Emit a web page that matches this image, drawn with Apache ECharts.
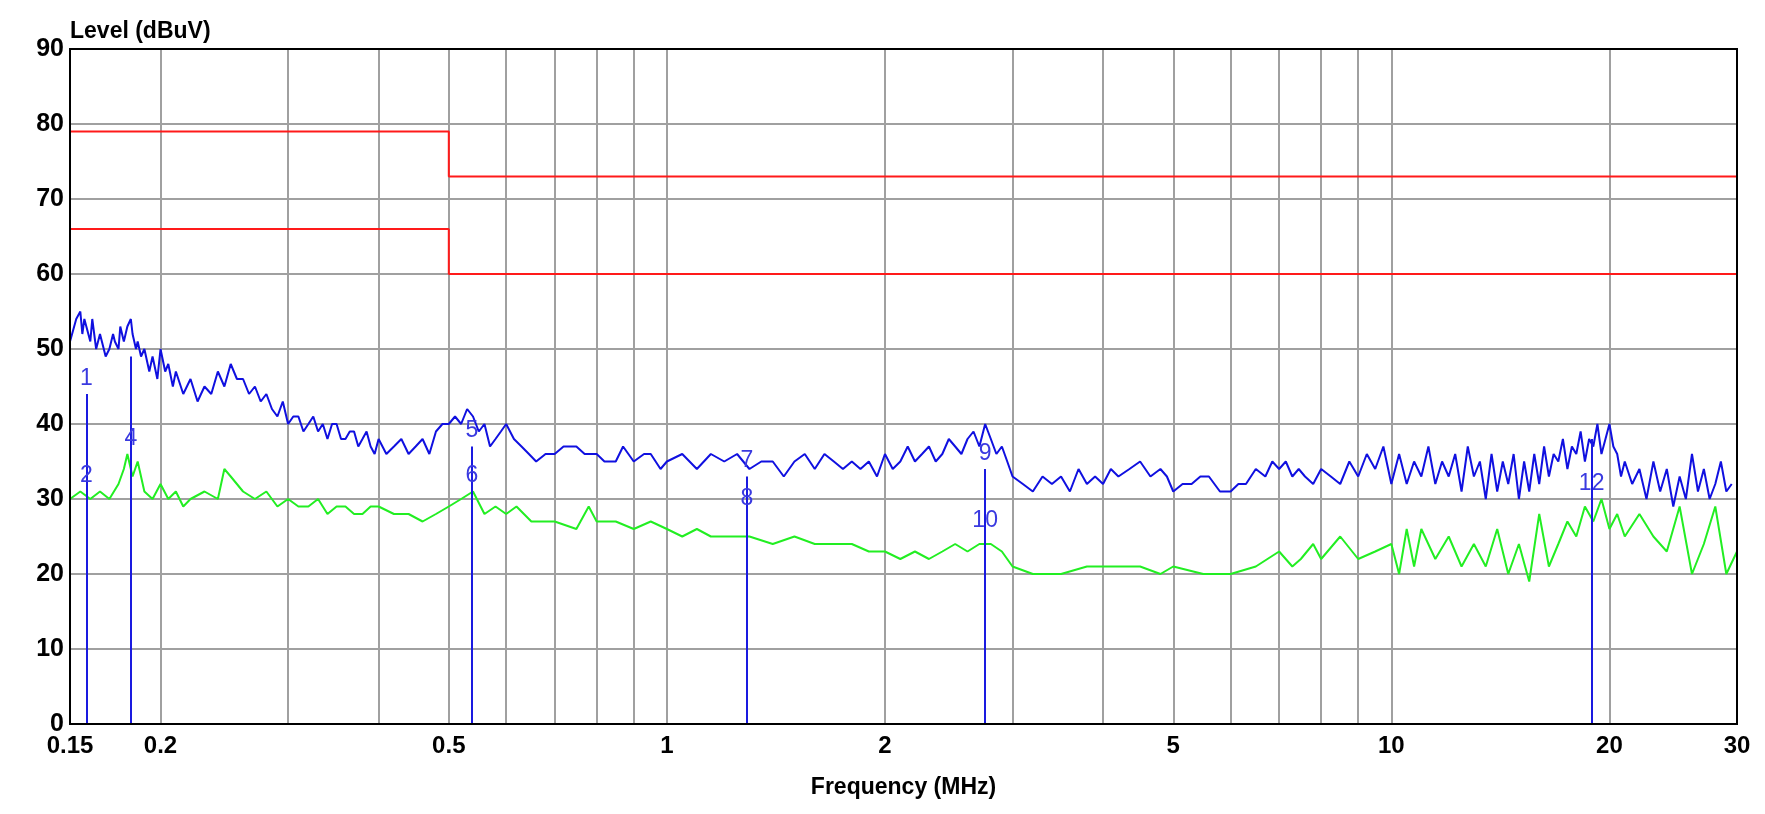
<!DOCTYPE html>
<html><head><meta charset="utf-8">
<script src="https://cdn.jsdelivr.net/npm/echarts@6/dist/echarts.min.js"></script>
<style>html,body{margin:0;background:#fff}#c{width:1765px;height:814px}</style></head>
<body><div id="c"></div>
<script>
const xTickLabels=[0.15,0.2,0.5,1,2,5,10,20,30];
const xGrid=[0.2,0.3,0.4,0.5,0.6,0.7,0.8,0.9,1,2,3,4,5,6,7,8,9,10,20];
const qpLimitF=[0.15,0.5,0.5,30], qpLimitV=[79,79,73,73];
const avLimitF=[0.15,0.5,0.5,30], avLimitV=[66,66,60,60];
const blueF=[0.15,0.151,0.152,0.153,0.155,0.156,0.157,0.158,0.16,0.161,0.163,0.165,0.166,0.168,0.17,0.172,0.173,0.175,0.176,0.178,0.18,0.182,0.183,0.185,0.186,0.188,0.19,0.193,0.195,0.198,0.2,0.203,0.205,0.208,0.21,0.215,0.22,0.225,0.23,0.235,0.24,0.245,0.25,0.255,0.26,0.265,0.27,0.275,0.28,0.285,0.29,0.295,0.3,0.305,0.31,0.315,0.32,0.325,0.33,0.335,0.34,0.345,0.35,0.355,0.36,0.365,0.37,0.375,0.38,0.385,0.39,0.395,0.4,0.41,0.42,0.43,0.44,0.45,0.46,0.47,0.48,0.49,0.5,0.51,0.52,0.53,0.54,0.55,0.56,0.57,0.58,0.59,0.6,0.615,0.63,0.645,0.66,0.68,0.7,0.72,0.75,0.77,0.8,0.82,0.85,0.87,0.9,0.93,0.95,0.98,1.0,1.05,1.1,1.15,1.2,1.25,1.3,1.35,1.4,1.45,1.5,1.55,1.6,1.65,1.7,1.75,1.8,1.85,1.9,1.95,2.0,2.05,2.1,2.15,2.2,2.25,2.3,2.35,2.4,2.45,2.5,2.55,2.6,2.65,2.7,2.75,2.8,2.85,2.9,2.95,3.0,3.1,3.2,3.3,3.4,3.5,3.6,3.7,3.8,3.9,4.0,4.1,4.2,4.35,4.5,4.65,4.8,4.9,5.0,5.15,5.3,5.45,5.6,5.8,6.0,6.15,6.3,6.5,6.7,6.85,7.0,7.15,7.3,7.45,7.6,7.8,8.0,8.25,8.5,8.75,9.0,9.25,9.5,9.75,10,10.25,10.5,10.75,11,11.25,11.5,11.75,12,12.25,12.5,12.75,13,13.25,13.5,13.75,14,14.25,14.5,14.75,15,15.25,15.5,15.75,16,16.25,16.5,16.75,17,17.25,17.5,17.75,18,18.25,18.5,18.75,19,19.25,19.5,19.75,20,20.25,20.5,20.75,21,21.5,22,22.5,23,23.5,24,24.5,25,25.5,26,26.5,27,27.5,28,28.5,29,29.5,30];
const blueV=[51,52,53,54,55,52,54,53,51,54,50,52,51,49,50,52,51,50,53,51,53,54,52,50,51,49,50,47,49,46,50,47,48,45,47,44,46,43,45,44,47,45,48,46,46,44,45,43,44,42,41,43,40,41,41,39,40,41,39,40,38,40,40,38,38,39,39,37,38,39,37,36,38,36,37,38,36,37,38,36,39,40,40,41,40,42,41,39,40,37,38,39,40,38,37,36,35,36,36,37,37,36,36,35,35,37,35,36,36,34,35,36,34,36,35,36,34,35,35,33,35,36,34,36,35,34,35,34,35,33,36,34,35,37,35,36,37,35,36,38,37,36,38,39,37,40,38,36,37,35,33,32,31,33,32,33,31,34,32,33,32,34,33,34,35,33,34,33,31,32,32,33,33,31,31,32,32,34,33,35,34,35,33,34,33,32,34,33,32,35,33,36,34,37,32,36,32,35,33,37,32,35,33,36,31,37,33,35,30,36,31,35,32,36,30,35,31,36,32,37,33,36,35,38,34,37,36,39,35,38,37,40,36,38,40,37,36,33,35,32,34,30,35,31,34,29,33,30,36,31,34,30,32,35,31,32];
const greenF=[0.15,0.155,0.16,0.165,0.17,0.175,0.178,0.18,0.183,0.186,0.19,0.195,0.2,0.205,0.21,0.215,0.22,0.23,0.24,0.245,0.25,0.26,0.27,0.28,0.29,0.3,0.31,0.32,0.33,0.34,0.35,0.36,0.37,0.38,0.39,0.4,0.42,0.44,0.46,0.48,0.5,0.52,0.54,0.56,0.58,0.6,0.62,0.65,0.7,0.75,0.78,0.8,0.85,0.9,0.95,1.0,1.05,1.1,1.15,1.2,1.3,1.4,1.5,1.6,1.7,1.8,1.9,2.0,2.1,2.2,2.3,2.4,2.5,2.6,2.7,2.8,2.9,3.0,3.2,3.5,3.8,4.0,4.3,4.5,4.8,5.0,5.5,6.0,6.5,7.0,7.3,7.5,7.8,8,8.5,9,9.5,10,10.25,10.5,10.75,11,11.5,12,12.5,13,13.5,14,14.5,15,15.5,16,16.5,17,17.5,18,18.5,19,19.5,20,20.5,21,22,23,24,25,26,27,28,29,30];
const greenV=[30,31,30,31,30,32,34,36,33,35,31,30,32,30,31,29,30,31,30,34,33,31,30,31,29,30,29,29,30,28,29,29,28,28,29,29,28,28,27,28,29,30,31,28,29,28,29,27,27,26,29,27,27,26,27,26,25,26,25,25,25,24,25,24,24,24,23,23,22,23,22,23,24,23,24,24,23,21,20,20,21,21,21,21,20,21,20,20,21,23,21,22,24,22,25,22,23,24,20,26,21,26,22,25,21,24,21,26,20,24,19,28,21,24,27,25,29,27,30,26,28,25,28,25,23,29,20,24,29,20,23,21,22,21];
const markerNames=['1','2','3','4','5','6','7','8','9','10','11','12'];
const markerLabelShown=[true,true,false,true,true,true,true,true,true,true,false,true];
const markerF=[0.158,0.158,0.182,0.182,0.538,0.538,1.29,1.29,2.75,2.75,18.9,18.9];
const markerV=[44,31,49,36,37,31,33,28,34,25,38,30];

const zip=(a,b)=>a.map((x,i)=>[x,b[i]]);
const chart=echarts.init(document.getElementById('c'));
const bold={fontFamily:'Liberation Sans, Arial',fontWeight:'bold',color:'#000'};
chart.setOption({
  animation:false,
  grid:{left:70,right:28,top:49,bottom:90,show:true,borderColor:'#000',borderWidth:2,z:10},
  xAxis:{type:'log',min:0.15,max:30,
    name:'Frequency (MHz)',nameLocation:'middle',nameGap:52,nameTextStyle:{...bold,fontSize:23},
    axisLine:{lineStyle:{color:'#000',width:2}},
    axisTick:{show:false},splitLine:{show:false},minorTick:{show:false},
    axisLabel:{customValues:xTickLabels,...bold,fontSize:24,margin:10,formatter:v=>String(+v.toPrecision(3))}},
  yAxis:{type:'value',min:0,max:90,interval:10,
    name:'Level (dBuV)',nameLocation:'end',nameGap:6,nameTextStyle:{...bold,fontSize:23,align:'left'},
    axisLine:{show:true,lineStyle:{color:'#000',width:2}},axisTick:{show:false},
    splitLine:{lineStyle:{color:'#a0a0a0',width:2}},
    axisLabel:{...bold,fontSize:25,margin:6}},
  series:[
    {type:'line',data:[],silent:true,z:1,markLine:{symbol:'none',silent:true,label:{show:false},z:1,
      lineStyle:{color:'#a0a0a0',width:2,type:'solid'},data:xGrid.map(v=>({xAxis:v}))}},
    {type:'line',z:5,data:zip(qpLimitF,qpLimitV),symbol:'none',lineStyle:{color:'#ff1a1a',width:2}},
    {type:'line',z:5,data:zip(avLimitF,avLimitV),symbol:'none',lineStyle:{color:'#ff1a1a',width:2}},
    {type:'line',z:6,data:zip(greenF,greenV),symbol:'none',lineStyle:{color:'#22ee22',width:2}},
    {type:'line',z:7,data:zip(blueF,blueV),symbol:'none',lineStyle:{color:'#1010e0',width:2},
      markLine:{symbol:'none',silent:true,z:8,lineStyle:{color:'#1a1ae0',width:2,type:'solid'},
        label:{show:true,position:'end',formatter:'{b}',color:'#3a3ae0',fontSize:23,fontFamily:'Liberation Sans, Arial',distance:4},
        data:markerF.map((f,i)=>[{coord:[f,0],name:markerNames[i],label:{show:markerLabelShown[i]}},{coord:[f,markerV[i]]}])}}
  ]
});
</script></body></html>
